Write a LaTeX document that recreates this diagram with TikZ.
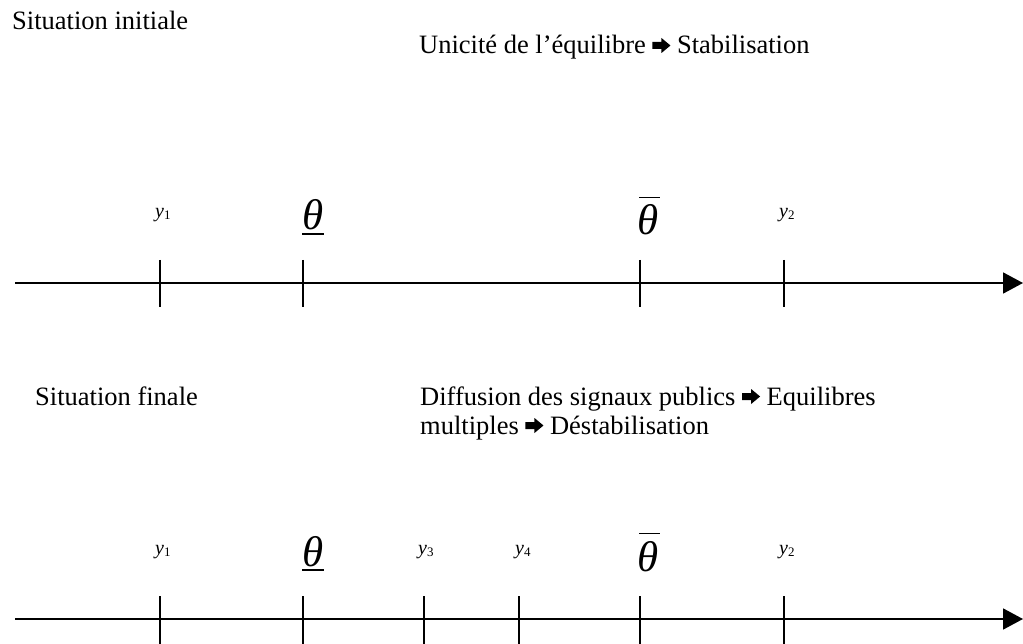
\documentclass[tikz,border=0pt]{standalone}
\usepackage{fontspec}
\setmainfont{Liberation Serif}
\usetikzlibrary{arrows.meta}
\newcommand{\bigtxt}{\fontsize{26.5}{30}\selectfont}
\newcommand{\arr}{\tikz[x=1pt,y=1pt,baseline=0pt]\fill (0,5) -- (9,5) -- (9,1) -- (18,8.5) -- (9,16) -- (9,12) -- (0,12) -- cycle;}
\newcommand{\yl}[1]{{\fontsize{20}{20}\selectfont\itshape y}\raisebox{-2pt}{\fontsize{13}{13}\selectfont #1}}
\begin{document}
\begin{tikzpicture}[x=1pt,y=-1pt,
  txt/.style={inner sep=0pt, anchor=base west, font=\bigtxt},
  lbl/.style={inner sep=0pt, anchor=base west},
  thl/.style={inner sep=0pt, anchor=base west, font=\fontsize{43}{43}\selectfont\itshape},
  axisline/.style={line width=1.8pt, -{Triangle[length=20pt,width=21pt]}},
  tickline/.style={line width=1.8pt},
  barline/.style={line width=1.4pt}]
\useasboundingbox (0,0) rectangle (1023,644);
% ---- texts
\node[txt] (si) at (12,30) {Situation initiale};
\node[txt] (un) at (419,54) {Unicité de l’équilibre \arr\ Stabilisation};
\node[txt] (sf) at (35,405) {Situation finale};
\node[txt] (d1) at (420,405) {Diffusion des signaux publics \arr\ Equilibres};
\node[txt] (d2) at (420,434) {multiples \arr\ Déstabilisation};
% ---- axis 1
\coordinate (a1s) at (15,283);
\coordinate (a1e) at (1023,283);
\draw[axisline] (a1s) -- (a1e);
\foreach \n/\x in {y1/160,tl/303,tu/640,y2/784}{
  \coordinate (A\n t) at (\x,260);
  \coordinate (A\n b) at (\x,307);
  \draw[tickline] (A\n t) -- (A\n b);
}
\node[lbl] (Ly1) at (155,218) {\yl{1}};
\node[lbl] (Ly2) at (779,218) {\yl{2}};
\node[thl] (Lthl) at (302,230) {θ};
\draw[barline] ([yshift=-4pt]Lthl.base west) -- ([yshift=-4pt]Lthl.base east);
\node[thl] (Lthu) at (637,235) {θ};
\draw[barline] ([yshift=7pt,xshift=2pt]Lthu.north west) -- ([yshift=7pt,xshift=1pt]Lthu.north east);
% ---- axis 2
\coordinate (a2s) at (15,619);
\coordinate (a2e) at (1023,619);
\draw[axisline] (a2s) -- (a2e);
\foreach \n/\x in {y1/160,tl/303,y3/424,y4/519,tu/640,y2/784}{
  \coordinate (B\n t) at (\x,596);
  \coordinate (B\n b) at (\x,644);
  \draw[tickline] (B\n t) -- (B\n b);
}
\node[lbl] (My1) at (155,554) {\yl{1}};
\node[lbl] (My3) at (418,554) {\yl{3}};
\node[lbl] (My4) at (515,554) {\yl{4}};
\node[lbl] (My2) at (779,554) {\yl{2}};
\node[thl] (Mthl) at (302,566) {θ};
\draw[barline] ([yshift=-4pt]Mthl.base west) -- ([yshift=-4pt]Mthl.base east);
\node[thl] (Mthu) at (637,571) {θ};
\draw[barline] ([yshift=7pt,xshift=2pt]Mthu.north west) -- ([yshift=7pt,xshift=1pt]Mthu.north east);
\end{tikzpicture}
\end{document}
